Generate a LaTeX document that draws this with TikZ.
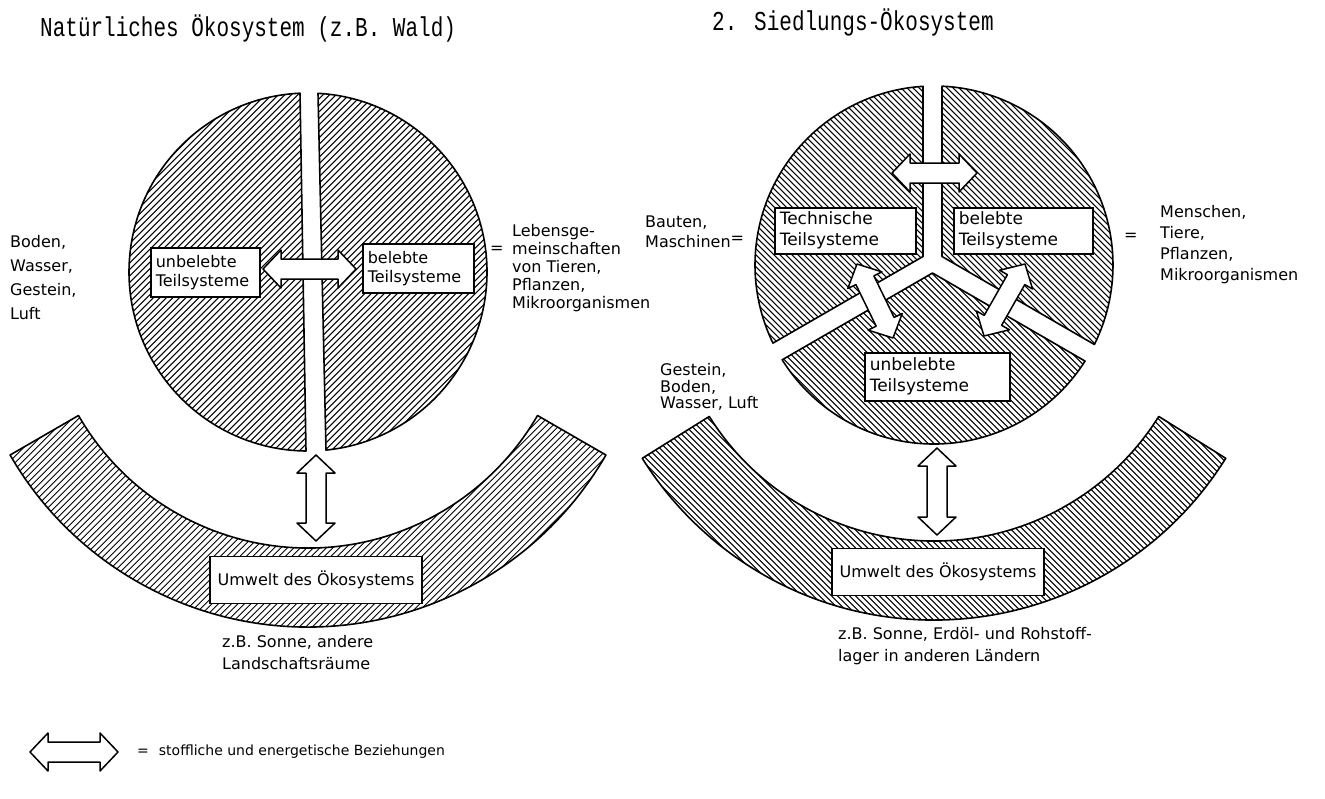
\documentclass[tikz,border=0pt]{standalone}
\usepackage{fontspec}
\setmainfont{DejaVu Sans}
\newfontfamily\titlefont{Liberation Mono}
\usetikzlibrary{calc}

\tikzset{
  hatchline/.style={line width=1pt, line cap=butt},
  outl/.style={draw, line width=1.6pt, line join=round},
  hatchNE/.style={path picture={\foreach \k in {-480,-473.5,...,480}{\draw[hatchline] ($(path picture bounding box.center)+(\k-300,300)$) -- ++(600,-600);}}},
  hatchNW/.style={path picture={\foreach \k in {-480,-474,...,480}{\draw[hatchline] ($(path picture bounding box.center)+(\k-300,-300)$) -- ++(600,600);}}},
  sysbox/.style={draw, fill=white, line width=1.5pt, inner xsep=5pt, inner ysep=3pt, align=left, anchor=north west},
  envbox/.style={draw, fill=white, line width=1.5pt, minimum width=212pt, minimum height=47pt, inner sep=3pt},
  lbl/.style={align=left, anchor=west, inner sep=0pt},
  ttl/.style={anchor=west, inner sep=0pt, font=\titlefont\fontsize{21}{21}\selectfont},
  arrowbody/.style={draw, fill=white, line width=1.5pt, line join=round}
}

\newcommand\fatarr[2]{%
  \coordinate (fa1) at ($(#1)!18pt!(#2)$);
  \coordinate (fa2) at ($(#2)!18pt!(#1)$);
  \draw[arrowbody] (#1) -- ($(fa1)!19pt!90:(#2)$) -- ($(fa1)!10pt!90:(#2)$)
    -- ($(fa2)!10pt!-90:(#1)$) -- ($(fa2)!19pt!-90:(#1)$) -- (#2)
    -- ($(fa2)!19pt!90:(#1)$) -- ($(fa2)!10pt!90:(#1)$)
    -- ($(fa1)!10pt!-90:(#2)$) -- ($(fa1)!19pt!-90:(#2)$) -- cycle;}

\begin{document}
\begin{tikzpicture}[x=1pt,y=-1pt, font=\fontsize{16}{19}\selectfont]
\useasboundingbox (0,0) rectangle (1325,798);
\fill[white] (0,0) rectangle (1325,798);

% titles
\node[ttl] (t1) at (40,28) {\scalebox{1}[1.3]{Natürliches Ökosystem (z.B. Wald)}};
\node[ttl] (t2) at (712,22) {\scalebox{1}[1.3]{2. Siedlungs-Ökosystem}};

% ---------- left diagram ----------
\path[outl, hatchNE] (306,451) arc[start angle=90.64, end angle=267.44, radius=179] -- cycle;
\path[outl, hatchNE] (318,93.3) arc[start angle=-86.8, end angle=84.23, radius=179] -- cycle;
\coordinate (lrc) at (308,283);
\path[outl, hatchNE] ($(lrc)+(30:344)$) arc[start angle=30, end angle=150, radius=344]
   -- ($(lrc)+(150:265)$) arc[start angle=150, end angle=30, radius=265] -- cycle;

\coordinate (a1s) at (263,269); \coordinate (a1e) at (356,269);
\coordinate (a2s) at (316,455); \coordinate (a2e) at (316,541);
\fatarr{a1s}{a1e}
\fatarr{a2s}{a2e}

\node[sysbox, minimum width=109pt, minimum height=49pt, text width=99pt] (lunb) at (150,247) {unbelebte\\Teilsysteme};
\node[sysbox, minimum width=111pt, minimum height=49pt, text width=101pt] (lbel) at (362,243) {belebte\\Teilsysteme};
\node[envbox] (lenv) at (316,580) {Umwelt des Ökosystems};

\node[lbl, font=\fontsize{16}{24}\selectfont] (lmat) at (10,278) {Boden,\\Wasser,\\Gestein,\\Luft};
\node[lbl] (leq) at (490,250) {=};
\node[lbl, font=\fontsize{16}{18.2}\selectfont] (lbio) at (512,268) {Lebensge-\\meinschaften\\von Tieren,\\Pflanzen,\\Mikroorganismen};
\node[lbl, font=\fontsize{16}{22}\selectfont] (lenvtxt) at (222,653) {z.B. Sonne, andere\\Landschaftsräume};

% ---------- right diagram ----------
\path[outl, hatchNW] (923,256.5) -- (923,86.34) arc[start angle=266.48, end angle=154.12, radius=179] -- cycle;
\path[outl, hatchNW] (942,256.5) -- (1094.38,344.48) arc[start angle=26.36, end angle=-87.44, radius=179] -- cycle;
\path[outl, hatchNW] (932.5,273) -- (1085.03,361.07) arc[start angle=32.46, end angle=148.02, radius=179] -- cycle;
\coordinate (rrc) at (934,276);
\path[outl, hatchNW] ($(rrc)+(32:344)$) arc[start angle=32, end angle=148, radius=344]
   -- ($(rrc)+(148:265)$) arc[start angle=148, end angle=32, radius=265] -- cycle;

\coordinate (b1s) at (892,173); \coordinate (b1e) at (977,173);
\coordinate (b2s) at (857,264); \coordinate (b2e) at (893,338);
\coordinate (b3s) at (1025,264); \coordinate (b3e) at (984,336);
\coordinate (b4s) at (937,448); \coordinate (b4e) at (937,535);
\fatarr{b1s}{b1e}
\fatarr{b2s}{b2e}
\fatarr{b3s}{b3e}
\fatarr{b4s}{b4e}

\node[sysbox, font=\fontsize{17}{21}\selectfont, minimum width=141pt, minimum height=46pt, text width=131pt] (rtec) at (774,207) {Technische\\Teilsysteme};
\node[sysbox, font=\fontsize{17}{21}\selectfont, minimum width=139pt, minimum height=46pt, text width=129pt] (rbel) at (953,207) {belebte\\Teilsysteme};
\node[sysbox, font=\fontsize{17}{21}\selectfont, minimum width=145pt, minimum height=48pt, text width=135pt] (runb) at (864,352) {unbelebte\\Teilsysteme};
\node[envbox] (renv) at (938,572) {Umwelt des Ökosystems};

\node[lbl, font=\fontsize{16}{20}\selectfont] (rtech) at (645,232) {Bauten,\\Maschinen\raisebox{4pt}{=}};
\node[lbl] (req) at (1124,237) {=};
\node[lbl, font=\fontsize{16}{21}\selectfont] (rbio) at (1160,245) {Menschen,\\Tiere,\\Pflanzen,\\Mikroorganismen};
\node[lbl, font=\fontsize{16}{16.5}\selectfont] (rmat) at (660,387) {Gestein,\\Boden,\\Wasser, Luft};
\node[lbl, font=\fontsize{16}{22}\selectfont] (renvtxt) at (838,646) {z.B. Sonne, Erdöl- und Rohstoff-\\lager in anderen Ländern};

% ---------- legend ----------
\coordinate (gs) at (30,752); \coordinate (ge) at (118,752);
\fatarr{gs}{ge}
\node[lbl, font=\fontsize{14}{16}\selectfont] (legtxt) at (137,752) {=\hspace{10pt}stoffliche und energetische Beziehungen};
\end{tikzpicture}
\end{document}
